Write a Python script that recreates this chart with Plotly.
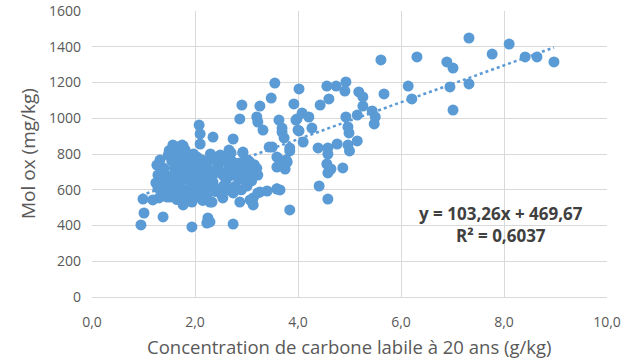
import plotly.graph_objects as go

# Upper / outer points
x_outer = [7.32, 8.10, 7.77, 8.41, 8.64, 8.97, 6.31, 5.61, 6.89, 7.01, 6.14, 5.67, 6.21, 6.95, 7.32, 7.01,
           3.55, 3.48, 2.91, 3.26, 3.92, 4.02, 2.87, 3.20, 3.22, 3.32, 3.63, 3.69, 3.73, 3.96, 4.00, 2.08,
           2.10, 2.10, 2.35, 2.74, 1.65, 1.77, 2.66, 2.93, 3.44, 3.84,
           4.56, 4.74, 4.93, 4.91, 5.18, 5.26, 4.60, 4.43, 5.26, 5.44, 5.50, 5.48, 5.15, 4.93, 4.97, 4.99,
           4.08, 4.21, 3.98, 4.27, 4.02, 4.10, 4.39, 4.58, 4.76, 4.97, 5.15, 5.00,
           3.84, 3.65, 3.79, 3.75, 4.58, 4.56, 4.64, 4.58, 4.87, 3.65, 3.59, 4.41, 4.58, 3.84,
           3.69, 3.59, 3.69, 3.77, 3.50]
y_outer = [1449, 1415, 1359, 1343, 1343, 1315, 1343, 1326, 1315, 1281, 1180, 1136, 1108, 1175, 1192, 1046,
           1197, 1113, 1074, 1068, 1080, 1164, 996, 1007, 979, 934, 990, 945, 890, 990, 934, 962,
           912, 856, 895, 884, 839, 845, 822, 811, 839, 834,
           1180, 1180, 1203, 1152, 1147, 1119, 1108, 1074, 1068, 1041, 1007, 968, 1018, 1007, 951, 918,
           1029, 1007, 996, 945, 929, 867, 834, 834, 856, 850, 873, 817,
           817, 766, 755, 716, 800, 744, 716, 694, 722, 599, 605, 621, 548, 487,
           923, 783, 755, 766, 839]

# Lower / left and middle points
x_mid = [0.99, 1.01, 0.95, 1.38, 1.18, 1.30, 1.94, 2.25, 2.23, 2.74, 2.29, 2.54, 2.87, 3.11, 3.13, 3.22,
         3.40, 3.59, 1.81, 1.94, 1.77, 2.74, 3.01, 2.99, 3.13, 3.22, 2.70, 2.93, 3.01, 2.93, 2.43, 2.62,
         2.72, 2.49, 2.68, 2.74, 2.87, 2.64, 2.54, 3.03, 3.01, 3.26, 2.74, 2.52, 2.33, 2.23, 3.07, 3.13,
         2.16, 2.35, 2.29, 2.23, 2.39, 2.29, 3.59]
y_mid = [548, 470, 403, 448, 543, 554, 392, 442, 414, 408, 531, 554, 531, 531, 554, 582,
         593, 604, 531, 531, 515, 582, 621, 649, 699, 682, 806, 806, 766, 699, 783, 755,
         727, 794, 811, 755, 750, 710, 682, 655, 627, 587, 587, 571, 531, 559, 543, 515,
         627, 643, 710, 750, 694, 420, 727]

# Dense cluster points
x_dense = [1.57, 1.75, 1.81, 1.48, 1.32, 1.26, 1.28, 1.24, 1.28, 1.38, 1.51, 1.65, 2.04, 2.14, 2.23,
           1.40, 1.45, 1.50, 1.42, 1.55, 1.60, 1.62, 1.58, 1.60, 1.70, 1.72, 1.68, 1.75, 1.72, 1.70,
           1.78, 1.85, 1.88, 1.82, 1.90, 1.85, 1.92, 1.88, 1.95, 2.00, 2.02, 1.98, 2.05, 2.00, 2.08,
           2.12, 2.15, 2.18, 2.10, 2.20, 2.25, 1.50, 1.62, 1.35, 1.45, 1.55, 1.65, 1.80, 1.90, 2.05,
           2.15, 1.97, 1.78, 1.65, 2.30, 2.35, 2.40, 2.45, 2.40, 2.50, 2.60, 2.55, 2.65, 2.80, 2.85,
           2.78, 2.70, 2.90, 2.95, 3.05, 3.10, 2.60, 2.50, 2.35, 2.30, 3.05, 3.15, 3.20]
y_dense = [850, 850, 822, 794, 766, 738, 682, 638, 610, 582, 559, 571, 783, 766, 750,
           720, 680, 640, 600, 760, 720, 690, 650, 610, 800, 760, 735, 700, 665, 630,
           600, 780, 745, 720, 690, 660, 630, 600, 575, 760, 720, 700, 670, 645, 610,
           580, 720, 690, 660, 640, 610, 820, 800, 650, 560, 590, 545, 555, 545, 560,
           540, 800, 830, 780, 660, 620, 590, 740, 710, 700, 650, 620, 600, 700, 660,
           620, 680, 600, 740, 700, 650, 790, 760, 770, 800, 760, 740, 720]

x_all = x_outer + x_mid + x_dense
y_all = y_outer + y_mid + y_dense

slope, intercept = 103.26, 469.67
x_trend = [min(x_all), max(x_all)]
y_trend = [slope * v + intercept for v in x_trend]

x_ticks = [0, 2, 4, 6, 8, 10]
x_tick_text = ["0,0", "2,0", "4,0", "6,0", "8,0", "10,0"]
y_ticks = [0, 200, 400, 600, 800, 1000, 1200, 1400, 1600]

x_title = "Concentration de carbone labile à 20 ans (g/kg)"
y_title = "Mol ox (mg/kg)"
equation = "y = 103,26x + 469,67"
r_squared = "R² = 0,6037"

blue = "#5b9bd5"
grey_text = "#595959"
font_family = "Open Sans, Arial"

fig = go.Figure()
fig.add_trace(go.Scatter(x=x_trend, y=y_trend, mode="lines",
                         line=dict(color=blue, width=2.5, dash="dot"), hoverinfo="skip"))
fig.add_trace(go.Scatter(x=x_all, y=y_all, mode="markers",
                         marker=dict(color=blue, size=11, line=dict(width=0))))

fig.add_annotation(x=7.94, y=403, xref="x", yref="y",
                   text="<b>" + equation + "</b><br><b>" + r_squared + "</b>",
                   showarrow=False, font=dict(family=font_family, size=17, color="#404040"),
                   align="center")

# axis titles
fig.add_annotation(x=0.5, y=0, xref="paper", yref="paper", xanchor="center", yanchor="middle",
                   text=x_title, showarrow=False, yshift=-49,
                   font=dict(family=font_family, size=18.5, color=grey_text))
fig.add_annotation(x=0, y=0.5, xref="paper", yref="paper", xanchor="center", yanchor="middle",
                   text=y_title, showarrow=False, textangle=-90, xshift=-64,
                   font=dict(family=font_family, size=19, color=grey_text))

fig.update_layout(
    width=623, height=358,
    margin=dict(l=92, r=16, t=11, b=61),
    paper_bgcolor="white", plot_bgcolor="white",
    showlegend=False,
    font=dict(family=font_family, color=grey_text),
    xaxis=dict(range=[0, 10], tickvals=x_ticks, ticktext=x_tick_text, automargin=False,
               showgrid=True, gridcolor="#d9d9d9", gridwidth=1, zeroline=False,
               showline=True, linecolor="#d9d9d9", mirror=False,
               ticks="", tickfont=dict(size=14, color=grey_text), ticklabelstandoff=12),
    yaxis=dict(range=[0, 1600], tickvals=y_ticks, automargin=False,
               showgrid=True, gridcolor="#d9d9d9", gridwidth=1, zeroline=False,
               ticks="", tickfont=dict(size=14, color=grey_text), ticklabelstandoff=10),
)

fig.write_html("out.html", config={"displayModeBar": False},
               post_script="document.body.style.margin='0';")
